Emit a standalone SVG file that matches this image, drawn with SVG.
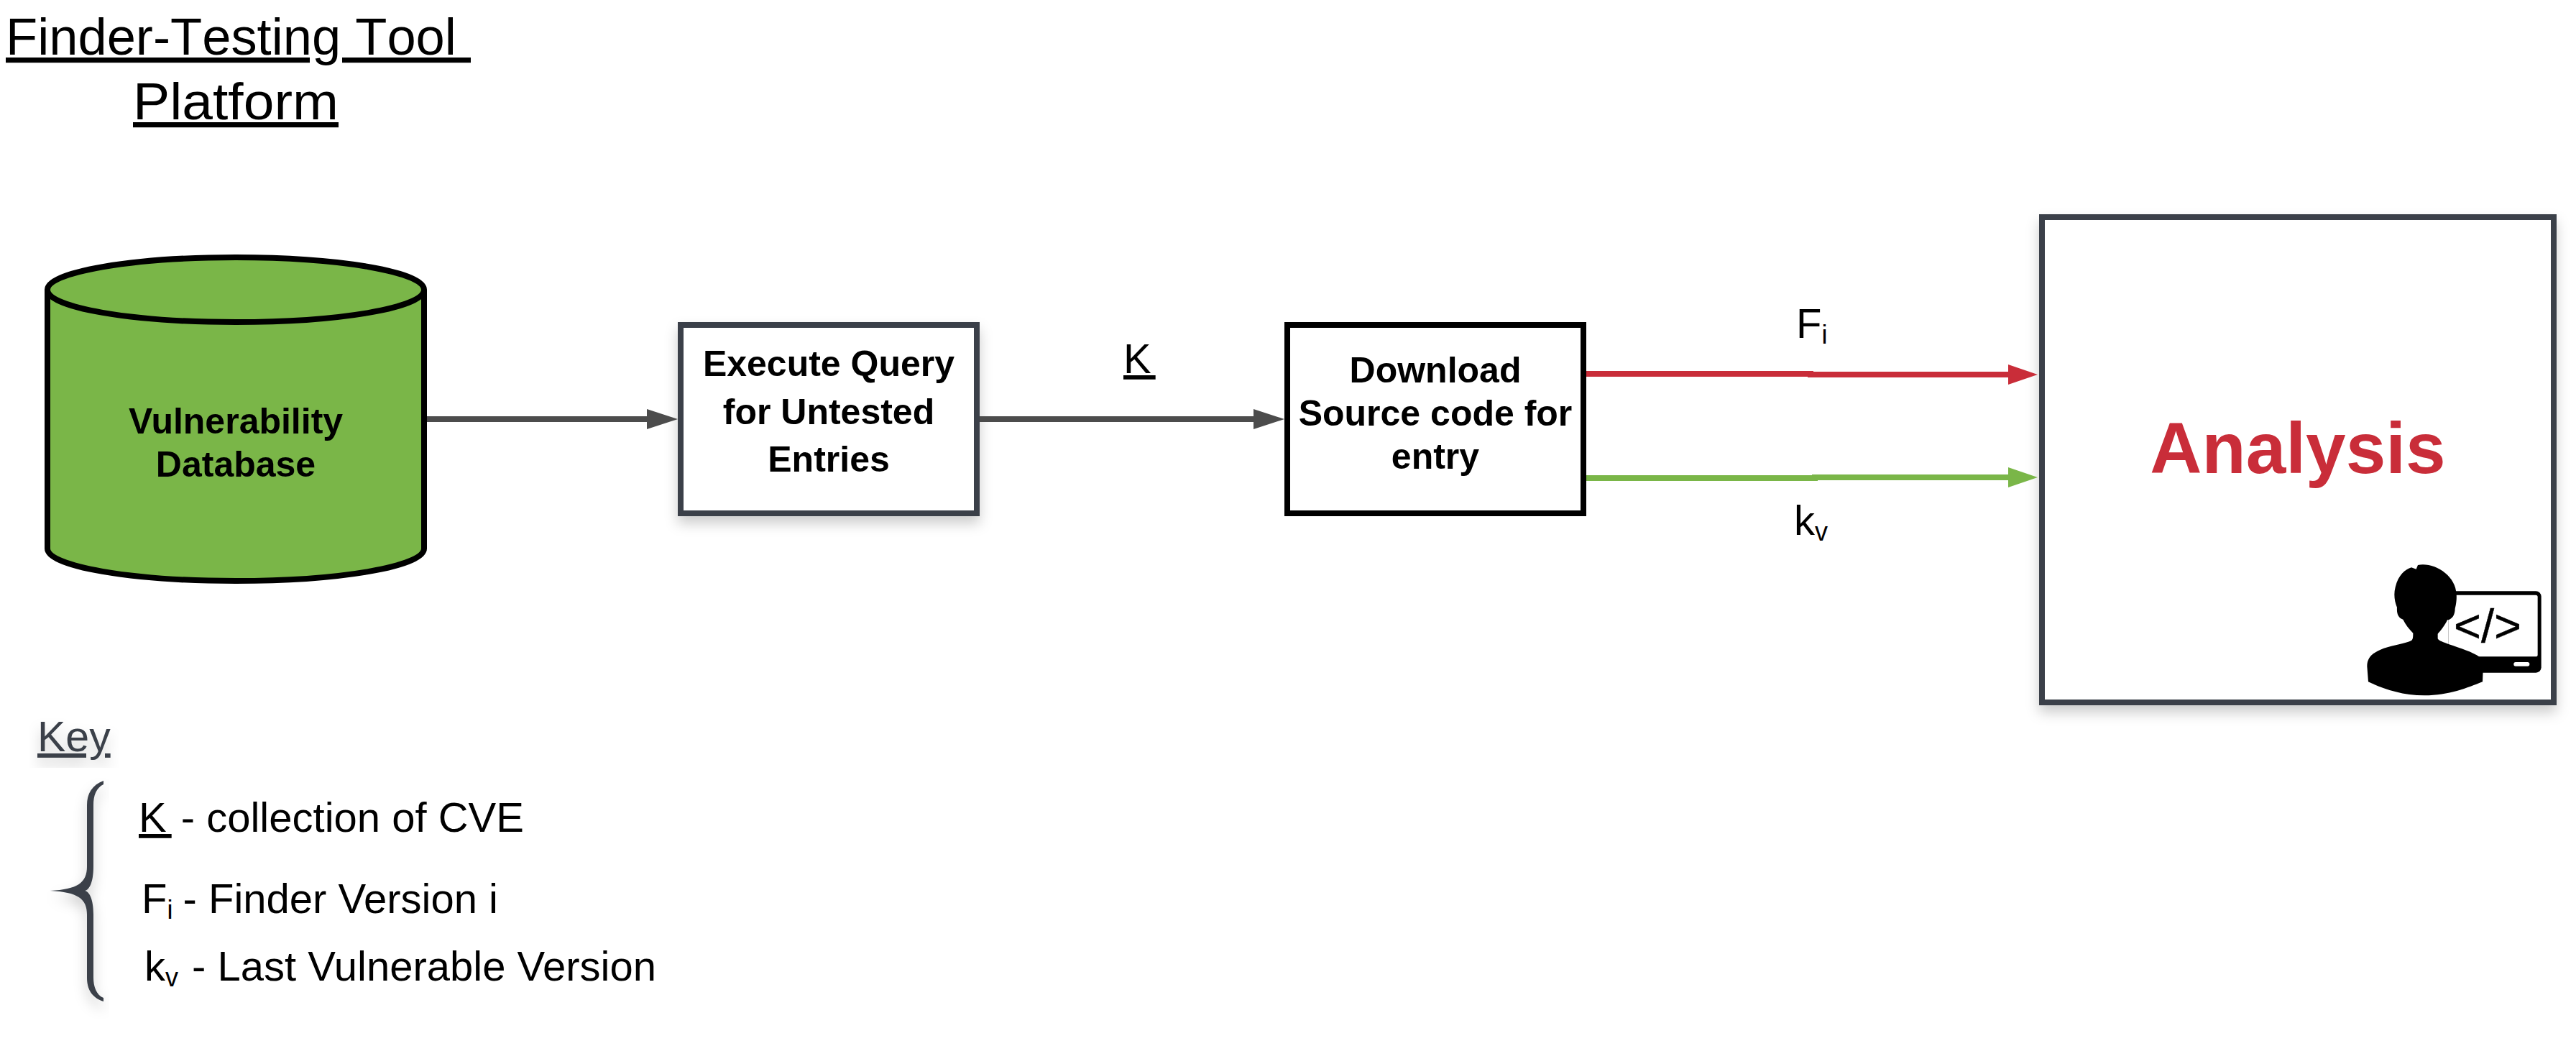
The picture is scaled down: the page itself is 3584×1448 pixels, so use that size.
<svg xmlns="http://www.w3.org/2000/svg" width="3584" height="1448" viewBox="0 0 3584 1448">
  <style>
    text { font-family: "Liberation Sans", Arial, sans-serif; fill: #000; }
    .title { font-size: 72px; text-decoration: underline; font-kerning: none; }
    .node { font-size: 50px; font-weight: bold; text-anchor: middle; }
    .lbl { font-size: 58px; }
    .sub { font-size: 36px; }
    .box { fill: #fff; stroke: #3a414a; stroke-width: 8; }
    .ln { fill: none; stroke-width: 8; }
  </style>
  <defs>
    <filter id="sh" x="-10%" y="-10%" width="120%" height="125%">
      <feDropShadow dx="0" dy="10" stdDeviation="9" flood-color="#000" flood-opacity="0.2"/>
    </filter>
    <marker id="g" markerUnits="userSpaceOnUse" markerWidth="44" markerHeight="30" refX="1" refY="14" orient="auto"><path d="M0 0L43 14L0 28Z" fill="#4c4c4c"/></marker>
    <marker id="r" markerUnits="userSpaceOnUse" markerWidth="44" markerHeight="30" refX="1" refY="14" orient="auto"><path d="M0 0L41 14L0 28Z" fill="#c92d39"/></marker>
    <marker id="v" markerUnits="userSpaceOnUse" markerWidth="44" markerHeight="30" refX="1" refY="14" orient="auto"><path d="M0 0L41 14L0 28Z" fill="#7ab648"/></marker>
  </defs>
  <rect width="3584" height="1448" fill="#fff"/>

  <g id="title">
    <text class="title" xml:space="preserve" x="8" y="76" textLength="647" lengthAdjust="spacingAndGlyphs">Finder-Testing Tool </text>
    <text class="title" x="185" y="166" textLength="286" lengthAdjust="spacingAndGlyphs">Platform</text>
  </g>

  <g id="database">
    <path d="M66 403A262 45 0 0 1 590 403V763C590 788 473 808 328 808C183 808 66 788 66 763Z" fill="#7ab648" stroke="#000" stroke-width="8"/>
    <path d="M66 403C66 428 183 448 328 448C473 448 590 428 590 403" fill="none" stroke="#000" stroke-width="8"/>
    <text class="node" x="328" y="603">Vulnerability</text>
    <text class="node" x="328" y="663">Database</text>
  </g>

  <g id="query">
    <rect class="box" x="947" y="452" width="412" height="262" filter="url(#sh)"/>
    <text class="node" x="1153" y="523">Execute Query</text>
    <text class="node" x="1153" y="590">for Untested</text>
    <text class="node" x="1153" y="656">Entries</text>
  </g>

  <g id="download">
    <rect x="1791" y="452" width="412" height="262" fill="#fff" stroke="#000" stroke-width="8"/>
    <text class="node" x="1997" y="532">Download</text>
    <text class="node" x="1997" y="592">Source code for</text>
    <text class="node" x="1997" y="652">entry</text>
  </g>

  <g id="analysis">
    <rect class="box" x="2841" y="302" width="712" height="675" filter="url(#sh)"/>
    <text x="3197" y="658" font-size="100" font-weight="bold" text-anchor="middle" style="fill:#c92d39">Analysis</text>
    <g id="developer-icon" transform="translate(3240 760) scale(.33333)">
      <rect x="500" y="187" width="387" height="340" rx="22" fill="#000"/>
      <rect x="500" y="203" width="372" height="257" rx="8" fill="#fff"/>
      <rect x="772" y="483" width="66" height="17" rx="8" fill="#fff"/>
      <path fill="#000" d="M372 78C440 65 530 120 533 200C535 225 530 250 527 260C527 285 515 305 495 307C485 330 465 355 455 365L455 385C460 395 480 400 500 408C550 425 600 440 630 462L645 490L642 565C580 590 500 622 400 622C300 622 220 590 165 565L160 500C160 460 190 440 230 425C270 412 320 405 345 393C352 388 352 375 352 362C335 345 320 325 310 305C290 298 283 280 285 255C275 230 270 200 278 170C290 120 320 95 345 88L365 95Z"/>
      <text x="522" y="400" font-size="195" stroke="#000" stroke-width="1.5">&lt;/&gt;</text>
    </g>
  </g>

  <g id="connectors">
    <path class="ln" d="M594 583H901" stroke="#4c4c4c" marker-end="url(#g)"/>
    <path class="ln" d="M1363 583H1745" stroke="#4c4c4c" marker-end="url(#g)"/>
    <path class="ln" d="M2207 520H2519V521H2795" stroke="#c92d39" marker-end="url(#r)"/>
    <path class="ln" d="M2207 665H2525V664H2795" stroke="#7ab648" marker-end="url(#v)"/>
  </g>

  <g id="edge-labels">
    <text class="lbl" x="1563" y="519" style="text-decoration:underline;letter-spacing:6px">K</text>
    <text class="lbl" x="2499" y="470">F<tspan class="sub" dy="8">i</tspan></text>
    <text class="lbl" x="2496" y="744">k<tspan class="sub" dy="8">v</tspan></text>
  </g>

  <g id="key">
    <text x="52" y="1045" style="font-size:59px;fill:#3a414a;text-decoration:underline" filter="url(#sh)">Key</text>
    <path d="M144 1086C128 1092 121 1104 121 1120V1205C121 1228 108 1237 70 1239C108 1241 121 1250 121 1272V1360C121 1376 128 1388 144 1393V1388C134 1384 130 1372 130 1360V1272C130 1250 124 1240 118 1239C124 1238 130 1228 130 1205V1120C130 1106 134 1096 144 1091Z" fill="#3a414a" filter="url(#sh)"/>
    <text class="lbl" x="193" y="1157"><tspan style="text-decoration:underline;letter-spacing:7px">K</tspan><tspan dx="-3"> - collection of CVE</tspan></text>
    <text class="lbl" x="197" y="1270">F<tspan class="sub" dy="8">i</tspan><tspan dy="-8" dx="-2"> - Finder Version i</tspan></text>
    <text class="lbl" x="201" y="1364">k<tspan class="sub" dy="8">v</tspan><tspan dy="-8" dx="3"> - Last Vulnerable Version</tspan></text>
  </g>
</svg>
